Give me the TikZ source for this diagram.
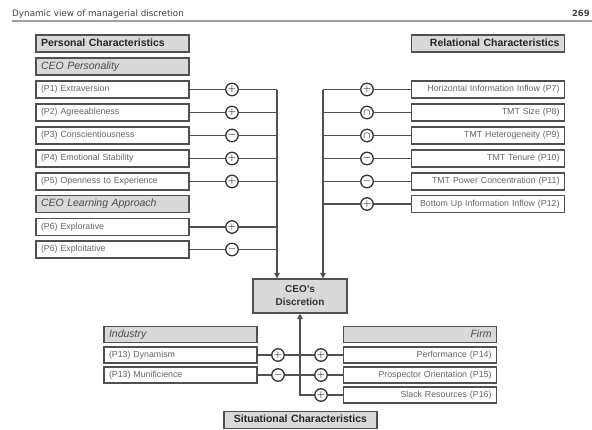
\documentclass[tikz,border=0pt]{standalone}
\usepackage{fontspec}
\setmainfont{Liberation Sans}
\newfontfamily\runfont{DejaVu Sans}
\usepackage{tikz}
\usetikzlibrary{arrows.meta,positioning}
\definecolor{boxgray}{HTML}{D9D9D9}
\definecolor{edgegray}{HTML}{505050}
\definecolor{itemgray}{HTML}{666666}
\definecolor{rulegray}{HTML}{A0A0A0}

\begin{document}
\begin{tikzpicture}[x=1pt,y=-1pt,>={Triangle[length=5.5pt,width=5.5pt]},
  basebox/.style={draw=edgegray,line width=1.1pt,minimum height=17pt,
    inner xsep=5pt,inner ysep=0pt,text width=143pt},
  headbox/.style={basebox,fill=boxgray,text=black!85,text height=7.5pt,text depth=2pt,
    font=\fontsize{10.5}{12}\selectfont\bfseries},
  groupbox/.style={basebox,fill=boxgray,text=black!70,text height=7.5pt,text depth=2.5pt,
    font=\fontsize{10.5}{12}\selectfont\itshape},
  itembox/.style={basebox,fill=white,text=itemgray,text height=6.5pt,text depth=2pt,
    font=\fontsize{8.8}{10}\selectfont},
  signmark/.style={circle,draw=black!80,line width=1.3pt,minimum size=12.5pt,
    inner sep=0pt,text=black!80,font=\small\boldmath},
  link/.style={draw=edgegray,line width=1.1pt},
  runhead/.style={inner sep=0pt,text=black!75,font=\runfont\fontsize{8.8}{10}\selectfont}]
  \useasboundingbox (0,0) rectangle (592,429);

  % running head
  \node[runhead,anchor=base west] (runtitle) at (12,16) {Dynamic view of managerial discretion};
  \node[runhead,anchor=base east,font=\runfont\fontsize{8.5}{10}\selectfont\bfseries] (pageno) at (590,16) {269};
  \draw[rulegray,line width=1.2pt] (12,21) -- (592,21);

  % personal characteristics
  \node[headbox,align=left] (pers) at (112.5,43.5) {Personal Characteristics};
  \node[groupbox,align=left] (ceopers) at (112.5,66.5) {CEO Personality};
  \node[itembox,align=left] (p1) at (112.5,89.5) {(P1) Extraversion};
  \node[itembox,align=left] (p2) at (112.5,112.5) {(P2) Agreeableness};
  \node[itembox,align=left] (p3) at (112.5,135.5) {(P3) Conscientiousness};
  \node[itembox,align=left] (p4) at (112.5,158.5) {(P4) Emotional Stability};
  \node[itembox,align=left] (p5) at (112.5,181.5) {(P5) Openness to Experience};
  \node[groupbox,align=left] (ceolearn) at (112.5,204) {CEO Learning Approach};
  \node[itembox,align=left] (p6a) at (112.5,227) {(P6) Explorative};
  \node[itembox,align=left] (p6b) at (112.5,249.5) {(P6) Exploitative};

  \node[signmark] (s1) at (232,89.5) {$+$};
  \node[signmark] (s2) at (232,112.5) {$+$};
  \node[signmark] (s3) at (232,135.5) {$-$};
  \node[signmark] (s4) at (232,158.5) {$+$};
  \node[signmark] (s5) at (232,181.5) {$+$};
  \node[signmark] (s6a) at (232,227) {$+$};
  \node[signmark] (s6b) at (232,249.5) {$-$};

  % discretion
  \node[draw=edgegray,line width=1.1pt,fill=boxgray,minimum width=94pt,minimum height=34pt,
    align=center,text=black!80,font=\fontsize{10}{13}\selectfont\bfseries]
    (ceo) at (300,296) {CEO’s\\Discretion};

  \coordinate (lbus) at (277,0);
  \foreach \row in {1,2,3,4,5,6a,6b}
    \draw[link] (p\row) -- (s\row) -- (s\row -| lbus);
  \draw[link,->] (s1 -| lbus) -- (ceo.north -| lbus);

  % relational characteristics
  \node[headbox,align=right] (rel) at (488,43.5) {Relational Characteristics};
  \node[itembox,align=right] (p7) at (488,89.5) {Horizontal Information Inflow (P7)};
  \node[itembox,align=right] (p8) at (488,112.5) {TMT Size (P8)};
  \node[itembox,align=right] (p9) at (488,135.5) {TMT Heterogeneity (P9)};
  \node[itembox,align=right] (p10) at (488,158.5) {TMT Tenure (P10)};
  \node[itembox,align=right] (p11) at (488,181.5) {TMT Power Concentration (P11)};
  \node[itembox,align=right] (p12) at (488,204) {Bottom Up Information Inflow (P12)};

  \node[signmark] (s7) at (367,89.5) {$+$};
  \node[signmark] (s8) at (367,112.5) {$\cap$};
  \node[signmark] (s9) at (367,135.5) {$\cap$};
  \node[signmark] (s10) at (367,158.5) {$-$};
  \node[signmark] (s11) at (367,181.5) {$-$};
  \node[signmark] (s12) at (367,204) {$+$};

  \coordinate (rbus) at (323,0);
  \foreach \row in {7,8,9,10,11,12}
    \draw[link] (p\row) -- (s\row) -- (s\row -| rbus);
  \draw[link,->] (s7 -| rbus) -- (ceo.north -| rbus);

  % situational characteristics
  \node[groupbox,align=left,minimum height=16pt] (ind) at (180.5,334.5) {Industry};
  \node[itembox,align=left,minimum height=16pt] (p13a) at (180.5,355) {(P13) Dynamism};
  \node[itembox,align=left,minimum height=16pt] (p13b) at (180.5,375) {(P13) Munificience};
  \node[groupbox,align=right,minimum height=16pt] (firm) at (420,334.5) {Firm};
  \node[itembox,align=right,minimum height=16pt] (p14) at (420,355) {Performance (P14)};
  \node[itembox,align=right,minimum height=16pt] (p15) at (420,375) {Prospector Orientation (P15)};
  \node[itembox,align=right,minimum height=16pt] (p16) at (420,395) {Slack Resources (P16)};
  \node[headbox,align=center] (sit) at (300.5,420) {Situational Characteristics};

  \node[signmark] (s13a) at (278,355) {$+$};
  \node[signmark] (s13b) at (278,375) {$-$};
  \node[signmark] (s14) at (321,355) {$+$};
  \node[signmark] (s15) at (321,375) {$+$};
  \node[signmark] (s16) at (321,395) {$+$};

  \draw[link] (p13a) -- (s13a) -- (s14) -- (p14);
  \draw[link] (p13b) -- (s13b) -- (s15) -- (p15);
  \draw[link,->] (p16) -- (s16) -- (s16 -| ceo.south) -- (ceo.south);
\end{tikzpicture}
\end{document}
